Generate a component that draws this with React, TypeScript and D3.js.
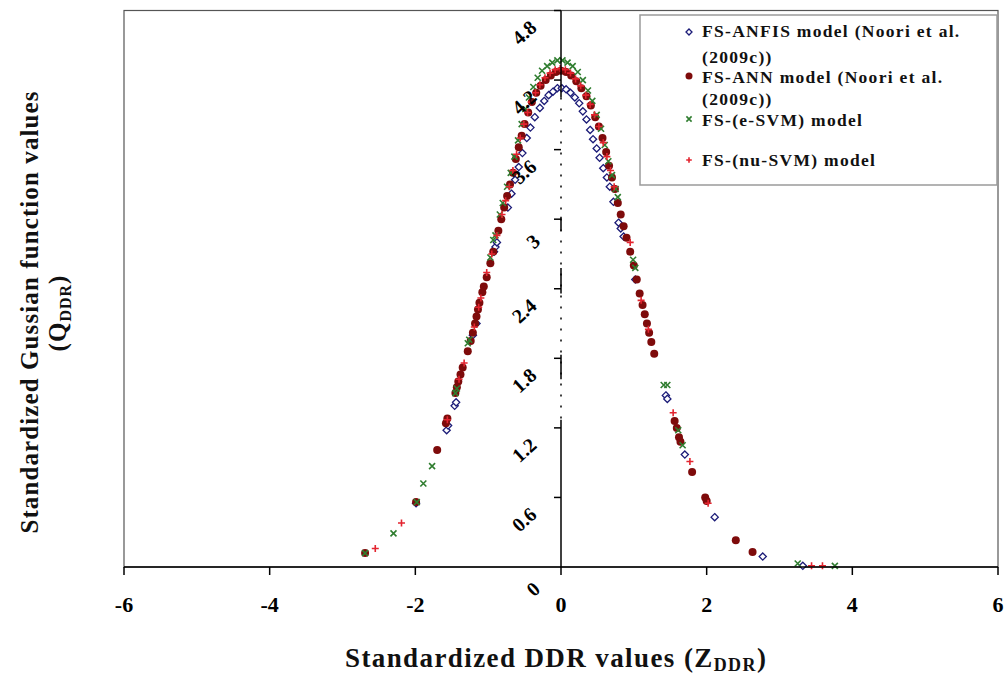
import React from "react";
import * as d3 from "d3";

// ---------- DATA ----------
const xTicks = [-6, -4, -2, 0, 2, 4, 6];
const yTicks = [0, 0.6, 1.2, 1.8, 2.4, 3, 3.6, 4.2, 4.8];
const yTickLabels = ["0", "0.6", "1.2", "1.8", "2.4", "3", "3.6", "4.2", "4.8"];

const seriesNames = [
  "FS-ANFIS model (Noori et al.|(2009c))",
  "FS-ANN model (Noori et al.|(2009c))",
  "FS-(e-SVM) model",
  "FS-(nu-SVM) model",
];

// [Z_DDR, Q_DDR]
const anfisData: [number, number][] = [
  [-1.99, 0.55], [-1.57, 1.18], [-1.55, 1.22], [-1.46, 1.39], [-1.44, 1.42], [-1.21, 2.0],
  [-1.16, 2.1], [-0.92, 2.72], [-0.9, 2.76], [-0.88, 2.8], [-0.73, 3.1], [-0.68, 3.22],
  [-0.63, 3.34], [-0.58, 3.45], [-0.53, 3.57], [-0.47, 3.7], [-0.42, 3.79], [-0.36, 3.88],
  [-0.29, 3.96], [-0.23, 4.02], [-0.17, 4.07], [-0.11, 4.1], [-0.05, 4.13], [0.01, 4.13],
  [0.07, 4.12], [0.13, 4.09], [0.19, 4.05], [0.25, 4.0], [0.3, 3.93], [0.35, 3.86],
  [0.4, 3.77], [0.44, 3.69], [0.49, 3.61], [0.53, 3.53], [0.58, 3.44], [0.63, 3.36],
  [0.67, 3.28], [0.72, 3.15], [0.79, 2.97], [0.82, 2.92], [0.86, 2.85], [1.02, 2.48],
  [1.44, 1.48], [1.46, 1.45], [1.7, 0.97], [2.11, 0.43], [2.77, 0.09], [3.32, 0.01],
];

const annData: [number, number][] = [
  [-2.69, 0.12], [-1.99, 0.56], [-1.7, 1.01], [-1.58, 1.24], [-1.56, 1.28], [-1.45, 1.5],
  [-1.43, 1.55], [-1.41, 1.6], [-1.38, 1.66], [-1.35, 1.72], [-1.28, 1.86], [-1.24, 1.95],
  [-1.21, 2.02], [-1.18, 2.1], [-1.16, 2.16], [-1.14, 2.22], [-1.12, 2.28], [-1.08, 2.37],
  [-1.06, 2.42], [-1.02, 2.5], [-0.97, 2.62], [-0.93, 2.72], [-0.86, 2.9], [-0.82, 3.0],
  [-0.78, 3.1], [-0.74, 3.2], [-0.7, 3.3], [-0.66, 3.4], [-0.62, 3.52], [-0.58, 3.62],
  [-0.54, 3.72], [-0.5, 3.82], [-0.45, 3.92], [-0.4, 4.01], [-0.34, 4.09], [-0.28, 4.15],
  [-0.21, 4.2], [-0.14, 4.24], [-0.07, 4.27], [0.0, 4.28], [0.07, 4.27], [0.14, 4.24],
  [0.21, 4.19], [0.28, 4.13], [0.35, 4.06], [0.41, 3.98], [0.47, 3.88], [0.52, 3.8],
  [0.57, 3.7], [0.62, 3.58], [0.66, 3.46], [0.7, 3.36], [0.74, 3.26], [0.78, 3.14],
  [0.82, 3.04], [0.86, 2.94], [0.9, 2.84], [0.95, 2.72], [1.0, 2.6], [1.04, 2.48],
  [1.08, 2.36], [1.12, 2.26], [1.15, 2.18], [1.18, 2.1], [1.21, 2.02], [1.24, 1.94],
  [1.28, 1.84], [1.56, 1.26], [1.59, 1.2], [1.62, 1.12], [1.64, 1.08], [1.8, 0.82],
  [1.98, 0.6], [2.0, 0.57], [2.4, 0.23], [2.63, 0.13],
];

const esvmData: [number, number][] = [
  [-2.69, 0.12], [-2.3, 0.29], [-1.98, 0.56], [-1.89, 0.72], [-1.77, 0.87], [-1.45, 1.5],
  [-1.43, 1.54], [-1.28, 1.93], [-1.26, 1.96], [-0.97, 2.67], [-0.93, 2.82], [-0.9, 2.86],
  [-0.84, 3.04], [-0.8, 3.14], [-0.74, 3.28], [-0.69, 3.4], [-0.64, 3.54], [-0.59, 3.68],
  [-0.54, 3.82], [-0.49, 3.95], [-0.44, 4.05], [-0.38, 4.14], [-0.32, 4.22], [-0.26, 4.28],
  [-0.19, 4.32], [-0.12, 4.35], [-0.05, 4.37], [0.02, 4.37], [0.09, 4.35], [0.16, 4.32],
  [0.23, 4.27], [0.3, 4.2], [0.37, 4.11], [0.43, 4.02], [0.49, 3.9], [0.55, 3.78],
  [0.6, 3.64], [0.65, 3.5], [0.7, 3.38], [0.75, 3.26], [0.78, 3.19], [0.99, 2.65],
  [1.02, 2.58], [1.41, 1.57], [1.46, 1.57], [1.61, 1.18], [1.67, 1.05], [3.25, 0.03],
  [3.76, 0.01],
];

const nusvmData: [number, number][] = [
  [-2.55, 0.16], [-2.19, 0.38], [-1.56, 1.27], [-1.4, 1.62], [-1.33, 1.76], [-1.19, 2.07],
  [-1.13, 2.24], [-1.1, 2.32], [-1.02, 2.54], [-0.95, 2.7], [-0.88, 2.86], [-0.81, 3.04],
  [-0.76, 3.16], [-0.71, 3.28], [-0.66, 3.42], [-0.61, 3.56], [-0.56, 3.7], [-0.51, 3.82],
  [-0.46, 3.92], [-0.41, 4.01], [-0.35, 4.09], [-0.29, 4.16], [-0.22, 4.22], [-0.15, 4.26],
  [-0.08, 4.29], [-0.01, 4.3], [0.06, 4.29], [0.13, 4.26], [0.2, 4.21], [0.27, 4.15],
  [0.34, 4.07], [0.4, 3.99], [0.46, 3.9], [0.52, 3.8], [0.58, 3.66], [0.63, 3.54],
  [0.68, 3.42], [0.73, 3.28], [0.95, 2.8], [1.1, 2.3], [1.2, 2.05], [1.54, 1.33],
  [1.77, 0.91], [2.02, 0.55], [3.44, 0.01], [3.59, 0.01],
];

// ---------- STYLE ----------
const W = 1004;
const H = 679;
const FONT = "'Liberation Serif', 'Times New Roman', serif";
const BLUE = "#1c1c78";
const DARKRED = "#7e0b0b";
const GREEN = "#2f7d2f";
const RED = "#e3242f";

const x = d3.scaleLinear().domain([-6, 6]).range([124, 998]);
const y = d3.scaleLinear().domain([0, 4.8]).range([567, 10.5]);

function Diamond({ cx, cy, s = 3.6 }: { cx: number; cy: number; s?: number }) {
  return (
    <path
      d={`M${cx},${cy - s}L${cx + s},${cy}L${cx},${cy + s}L${cx - s},${cy}Z`}
      fill="#fff"
      stroke={BLUE}
      strokeWidth={1.3}
    />
  );
}
function Dot({ cx, cy, r = 4 }: { cx: number; cy: number; r?: number }) {
  return <circle cx={cx} cy={cy} r={r} fill={DARKRED} />;
}
function Cross({ cx, cy, s = 3 }: { cx: number; cy: number; s?: number }) {
  return (
    <path
      d={`M${cx - s},${cy - s}L${cx + s},${cy + s}M${cx - s},${cy + s}L${cx + s},${cy - s}`}
      stroke={GREEN}
      strokeWidth={1.6}
    />
  );
}
function Plus({ cx, cy, s = 3.5 }: { cx: number; cy: number; s?: number }) {
  return (
    <path
      d={`M${cx - s},${cy}L${cx + s},${cy}M${cx},${cy - s}L${cx},${cy + s}`}
      stroke={RED}
      strokeWidth={1.6}
    />
  );
}

export default function App() {
  const x0 = x(0);
  const legendRows = [
    { marker: <Diamond cx={689} cy={32} s={3} />, lines: seriesNames[0].split("|"), ys: [37, 63] },
    { marker: <Dot cx={689} cy={76} r={3.5} />, lines: seriesNames[1].split("|"), ys: [83, 105] },
    { marker: <Cross cx={689} cy={119} s={2.6} />, lines: seriesNames[2].split("|"), ys: [126] },
    { marker: <Plus cx={689} cy={160} s={2.8} />, lines: seriesNames[3].split("|"), ys: [166] },
  ];
  return (
    <svg
      width={W}
      height={H}
      style={{ position: "absolute", left: 0, top: 0, background: "#fff" }}
      fontFamily={FONT}
    >
      <rect x={0} y={0} width={W} height={H} fill="#fff" />
      {/* plot frame */}
      <rect x={x(-6)} y={y(4.8)} width={x(6) - x(-6)} height={y(0) - y(4.8)} fill="none" stroke="#555" strokeWidth={1.2} />

      {/* series */}
      <g>
        {anfisData.map((d, i) => (
          <Diamond key={"a" + i} cx={x(d[0])} cy={y(d[1])} />
        ))}
      </g>
      <g>
        {annData.map((d, i) => (
          <Dot key={"b" + i} cx={x(d[0])} cy={y(d[1])} />
        ))}
      </g>
      <g>
        {esvmData.map((d, i) => (
          <Cross key={"c" + i} cx={x(d[0])} cy={y(d[1])} />
        ))}
      </g>
      <g>
        {nusvmData.map((d, i) => (
          <Plus key={"d" + i} cx={x(d[0])} cy={y(d[1])} />
        ))}
      </g>

      {/* x axis */}
      <line x1={x(-6)} x2={x(6)} y1={y(0)} y2={y(0)} stroke="#000" strokeWidth={1.5} />
      {xTicks.map((t) => (
        <g key={"xt" + t}>
          <line x1={x(t)} x2={x(t)} y1={y(0)} y2={y(0) + 8} stroke="#000" strokeWidth={1.5} />
          <text x={x(t)} y={612} textAnchor="middle" fontSize={22} fontWeight="bold">
            {t}
          </text>
        </g>
      ))}

      {/* y axis at x = 0 */}
      <line x1={x0} x2={x0} y1={y(4.8)} y2={y(4.05)} stroke="#000" strokeWidth={1.5} />
      <line x1={x0} x2={x0} y1={y(4.05)} y2={y(1.27)} stroke="#000" strokeWidth={1.5} strokeDasharray="2 9" />
      {[[3.02, 2.9], [2.58, 2.36], [1.83, 1.62]].map((s, i) => (
        <line key={"ys" + i} x1={x0} x2={x0} y1={y(s[0])} y2={y(s[1])} stroke="#000" strokeWidth={1.5} />
      ))}
      <line x1={x0} x2={x0} y1={y(1.27)} y2={y(0)} stroke="#000" strokeWidth={1.5} />
      {yTicks.map((t, i) => {
        const ty = y(t);
        const lab = yTickLabels[i];
        const lx = x0 + (lab.length === 1 ? -28 : -37);
        const ly = ty + 22;
        return (
          <g key={"yt" + i}>
            {t > 0 && <line x1={x0 - 7} x2={x0} y1={ty} y2={ty} stroke="#000" strokeWidth={1.5} />}
            <text
              x={lx}
              y={ly}
              textAnchor="middle"
              dominantBaseline="central"
              fontSize={20}
              fontWeight="bold"
              transform={`rotate(-42 ${lx} ${ly})`}
            >
              {lab}
            </text>
          </g>
        );
      })}

      {/* legend */}
      <rect x={640} y={15} width={357} height={170} fill="#fff" stroke="#9a9a9a" strokeWidth={1.5} />
      {legendRows.map((r, i) => (
        <g key={"lg" + i}>
          {r.marker}
          {r.lines.map((ln, j) => (
            <text key={j} x={702} y={r.ys[j]} fontSize={17.5} fontWeight="bold" letterSpacing={1.3} fill="#111">
              {ln}
            </text>
          ))}
        </g>
      ))}

      {/* x title */}
      <text x={345} y={667} fontSize={27} fontWeight="bold" letterSpacing={1.4} fill="#111">
        Standardized DDR values (Z
        <tspan fontSize={18} dy={4}>DDR</tspan>
        <tspan dy={-4}>)</tspan>
      </text>

      {/* y title */}
      <text
        x={38}
        y={312}
        transform="rotate(-90 38 312)"
        textAnchor="middle"
        fontSize={25}
        fontWeight="bold"
        letterSpacing={1.1}
        fill="#111"
      >
        Standardized Gussian function values
      </text>
      <text
        x={66}
        y={313}
        transform="rotate(-90 66 313)"
        textAnchor="middle"
        fontSize={25}
        fontWeight="bold"
        letterSpacing={1}
        fill="#111"
      >
        (Q
        <tspan fontSize={16} dy={5}>DDR</tspan>
        <tspan dy={-5}>)</tspan>
      </text>
    </svg>
  );
}
